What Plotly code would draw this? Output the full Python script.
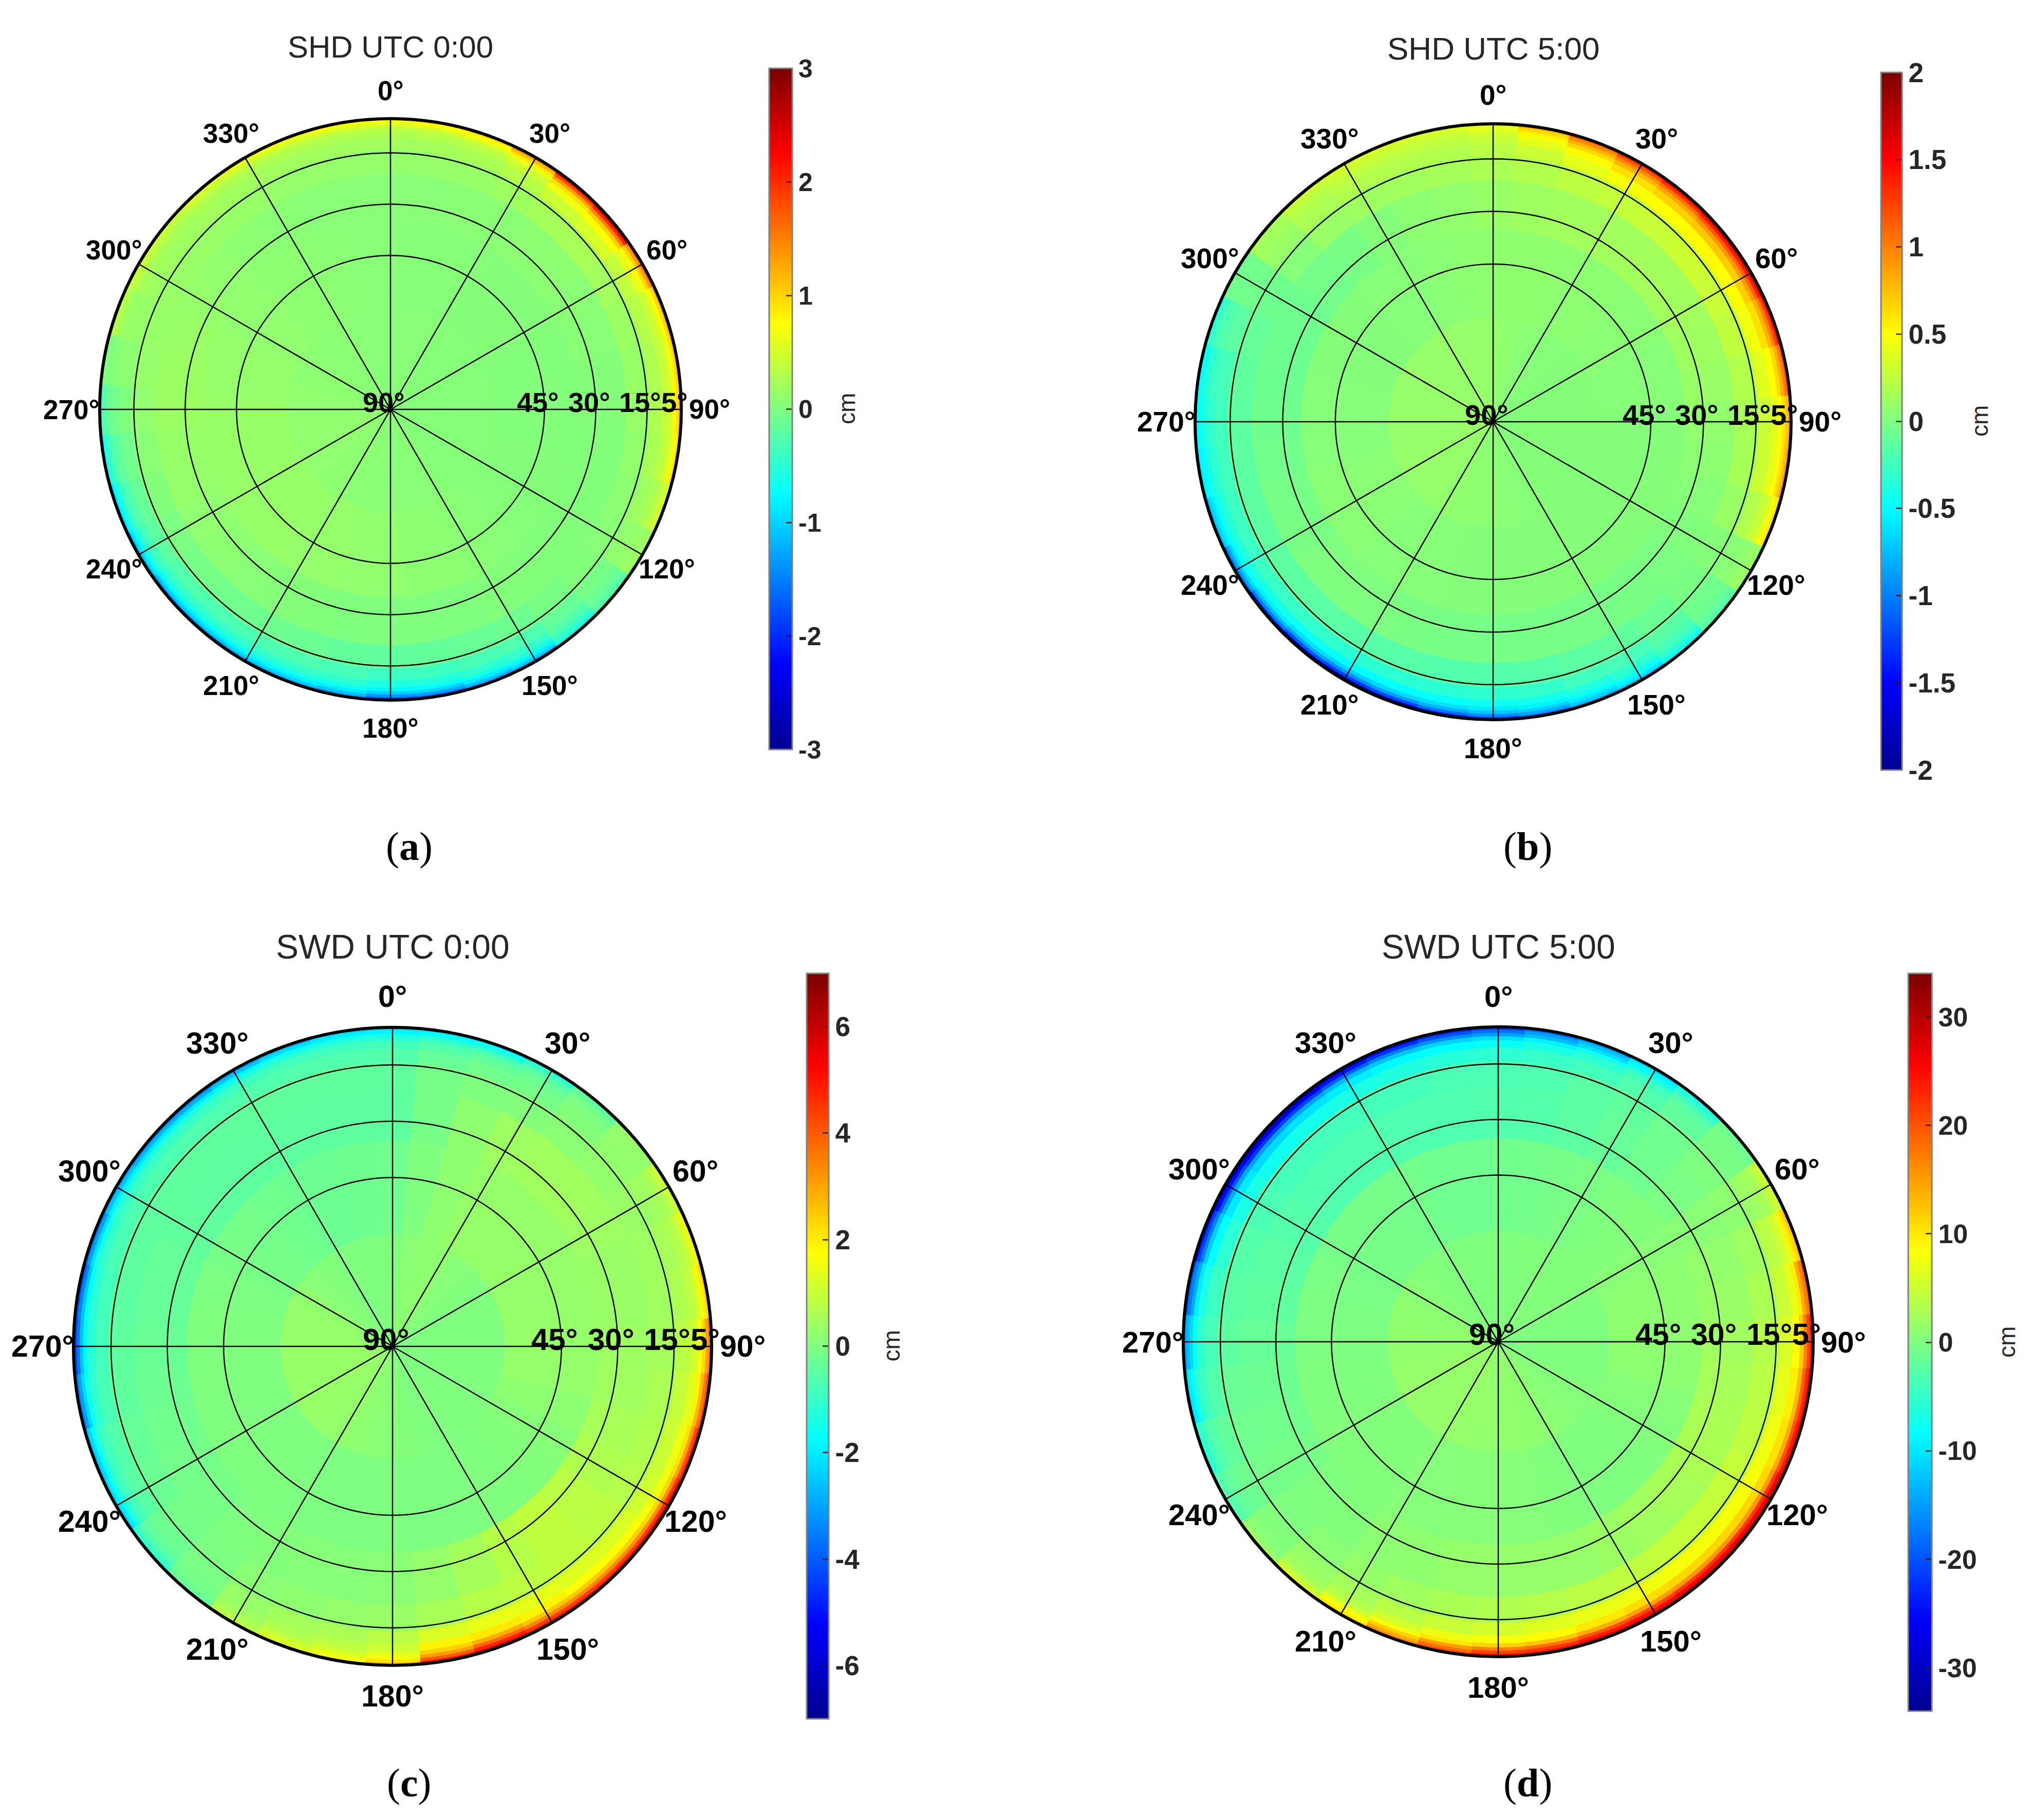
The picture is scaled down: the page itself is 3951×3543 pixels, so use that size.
# polar maps of SHD / SWD residuals by azimuth and elevation
import math
import plotly.graph_objects as go

# the page keeps its 8px body margin, so the figure is that much smaller than the window
PAGE_MARGIN = 8
WIDTH = 3951 - 2 * PAGE_MARGIN
HEIGHT = 3543 - 2 * PAGE_MARGIN

azimuths = list(range(0, 360, 10))
band_top = [90, 60, 35, 21, 14, 10.5, 8.5, 7.4, 6.5, 5.7]
band_bottom = [60, 35, 21, 14, 10.5, 8.5, 7.4, 6.5, 5.7, 5]

# values in cm, one row per elevation band (zenith to horizon), one column per azimuth
shd_0 = [
    [.05, .05, .05, .04, .04, .04, .04, .04, .04, .04, .04, .04, .04, .04, .04, .05, .05, .05, .06, .06, .07, .08, .08, .1, .1, .1, .1, .1, .1, .08, .08, .07, .06, .06, .05, .05],
    [.05, .04, .04, .04, .03, .03, .03, .02, .02, .02, .02, .03, .03, .04, .05, .06, .08, .08, .1, .1, .12, .12, .14, .14, .14, .14, .14, .14, .12, .12, .1, .1, .08, .08, .06, .05],
    [.05, .05, .06, .06, .08, .08, .06, .05, .03, .03, .02, .02, .02, .02, .02, .02, 0, 0, 0, 0, .02, .03, .05, .08, .1, .12, .14, .16, .16, .15, .12, .1, .08, .06, .05, .05],
    [.12, .13, .14, .18, .22, .24, .2, .16, .14, .14, .11, .08, .05, .02, -.04, -.1, -.14, -.16, -.18, -.16, -.12, -.1, -.08, -.05, -.02, .02, .06, .1, .13, .14, .15, .15, .14, .13, .12, .12],
    [.2, .22, .25, .32, .45, .52, .4, .32, .28, .28, .25, .18, .1, -.05, -.15, -.28, -.32, -.38, -.4, -.34, -.3, -.3, -.3, -.27, -.2, -.15, -.08, 0, .08, .14, .18, .18, .2, .2, .2, .2],
    [.28, .3, .34, .46, .66, .76, .58, .44, .4, .4, .36, .25, .12, -.1, -.25, -.42, -.48, -.55, -.58, -.48, -.45, -.45, -.45, -.42, -.35, -.28, -.18, -.06, .06, .15, .22, .22, .25, .26, .27, .28],
    [.36, .4, .46, .62, .92, 1.05, .78, .58, .52, .52, .48, .32, .14, -.15, -.35, -.6, -.65, -.75, -.8, -.65, -.6, -.6, -.62, -.6, -.5, -.4, -.28, -.12, .04, .18, .26, .26, .3, .33, .35, .36],
    [.5, .55, .62, .85, 1.3, 1.5, 1.0, .75, .7, .7, .62, .4, .16, -.2, -.45, -.8, -.85, -1.0, -1.05, -.85, -.8, -.8, -.82, -.8, -.7, -.55, -.38, -.18, .02, .25, .34, .34, .4, .45, .48, .5],
    [.62, .7, .78, 1.1, 1.75, 2.0, 1.3, .95, .9, .9, .8, .5, .18, -.25, -.55, -1.0, -1.1, -1.3, -1.35, -1.1, -1.0, -1.0, -1.05, -1.05, -.9, -.75, -.5, -.25, 0, .3, .4, .4, .48, .55, .58, .62],
    [.75, .85, .95, 1.4, 2.2, 2.5, 1.6, 1.2, 1.1, 1.1, 1.0, .6, .2, -.3, -.7, -1.3, -1.4, -1.7, -1.8, -1.4, -1.3, -1.3, -1.4, -1.4, -1.2, -1.0, -.7, -.35, 0, .35, .45, .45, .55, .65, .7, .75],
]
shd_5 = [
    [.08, .06, .04, .03, .03, .02, .02, .02, .02, .02, .02, .02, .02, .02, .02, .03, .03, .04, .05, .05, .06, .07, .08, .08, .09, .09, .09, .09, .09, .09, .09, .09, .09, .09, .09, .08],
    [.06, .06, .06, .05, .05, .04, .04, .03, .03, .02, .02, .02, .02, .02, .02, .02, .02, .02, .02, .02, .03, .03, .03, .04, .04, .04, .03, .03, .03, .02, .02, .02, .03, .03, .04, .05],
    [.1, .12, .13, .14, .14, .14, .13, .12, .1, .07, .05, .03, .01, -.01, -.02, -.03, -.03, -.03, -.03, -.03, -.02, -.01, 0, 0, -.02, -.03, -.05, -.06, -.07, -.07, -.06, -.04, -.02, .02, .05, .07],
    [.17, .2, .24, .27, .28, .3, .28, .25, .2, .16, .15, .1, .02, -.02, -.08, -.12, -.14, -.16, -.17, -.17, -.16, -.15, -.14, -.13, -.13, -.13, -.13, -.13, -.12, -.1, -.06, .03, .1, .12, .14, .15],
    [.23, .3, .4, .47, .5, .52, .5, .45, .38, .3, .3, .2, .04, -.05, -.15, -.22, -.25, -.3, -.32, -.33, -.33, -.33, -.3, -.28, -.27, -.26, -.25, -.24, -.22, -.14, -.05, .1, .17, .2, .2, .2],
    [.28, .4, .52, .62, .68, .72, .7, .62, .5, .4, .4, .28, .06, -.07, -.22, -.32, -.37, -.42, -.45, -.47, -.48, -.5, -.46, -.42, -.38, -.36, -.33, -.3, -.27, -.17, -.05, .12, .2, .24, .24, .24],
    [.32, .47, .65, .78, .85, .92, .9, .8, .65, .5, .5, .36, .08, -.1, -.28, -.4, -.47, -.55, -.58, -.62, -.65, -.68, -.62, -.55, -.5, -.45, -.4, -.37, -.33, -.2, -.05, .13, .22, .27, .27, .27],
    [.35, .55, .8, .95, 1.05, 1.15, 1.12, 1.0, .82, .6, .62, .45, .1, -.12, -.35, -.5, -.58, -.68, -.72, -.8, -.88, -.92, -.85, -.75, -.65, -.55, -.47, -.42, -.38, -.25, -.05, .14, .25, .3, .3, .3],
    [.4, .65, .95, 1.15, 1.3, 1.4, 1.4, 1.25, 1.0, .72, .75, .55, .1, -.15, -.42, -.6, -.7, -.85, -.95, -1.05, -1.2, -1.25, -1.15, -1.0, -.85, -.65, -.52, -.47, -.45, -.3, -.05, .15, .28, .33, .33, .33],
    [.45, .75, 1.1, 1.35, 1.55, 1.7, 1.65, 1.5, 1.2, .85, .9, .65, .1, -.2, -.5, -.75, -.85, -1.1, -1.25, -1.4, -1.65, -1.75, -1.6, -1.4, -1.1, -.8, -.6, -.5, -.5, -.35, -.05, .15, .3, .35, .35, .35],
]
swd_0 = [
    [0, .15, .2, .2, .1, .05, 0, 0, 0, 0, 0, 0, 0, 0, 0, 0, 0, .05, .1, .15, .2, .25, .3, .32, .32, .32, .32, .32, .3, .28, .22, .12, .05, 0, 0, 0],
    [-.2, 0, .2, .3, .3, .3, .3, .3, .3, .3, .28, .2, .1, .05, .02, 0, -.02, -.02, -.02, -.02, -.02, -.02, 0, 0, 0, 0, 0, 0, 0, -.05, -.1, -.15, -.2, -.25, -.25, -.22],
    [-.45, -.1, .2, .4, .45, .45, .4, .35, .35, .4, .45, .55, .65, .8, .9, .75, .5, .3, .15, .1, .1, .05, 0, -.1, -.15, -.2, -.25, -.3, -.35, -.35, -.4, -.45, -.45, -.45, -.45, -.45],
    [-.4, -.1, 0, .06, .15, .25, .33, .4, .45, .5, .6, .65, .7, .85, .9, .85, .75, .55, .35, .28, .2, .15, -.03, -.15, -.28, -.33, -.42, -.45, -.48, -.45, -.42, -.42, -.42, -.4, -.4, -.4],
    [-.6, -.35, -.2, -.13, .06, .26, .4, .55, .65, .8, .95, 1.05, 1.1, 1.25, 1.3, 1.4, 1.45, 1.25, .8, .6, .5, .32, -.06, -.26, -.52, -.6, -.75, -.85, -.85, -.75, -.68, -.68, -.65, -.62, -.62, -.62],
    [-.85, -.6, -.42, -.28, 0, .28, .5, .7, .85, 1.1, 1.35, 1.5, 1.55, 1.7, 1.75, 1.9, 2.05, 1.9, 1.05, .8, .63, .38, -.1, -.38, -.77, -.85, -1.1, -1.2, -1.2, -1.05, -.95, -.95, -.95, -.88, -.85, -.85],
    [-1.15, -.88, -.72, -.48, -.08, .28, .64, .92, 1.15, 1.65, 1.9, 2.15, 2.3, 2.4, 2.5, 2.55, 2.9, 2.4, 1.35, 1.05, .8, .48, -.16, -.56, -1.1, -1.2, -1.6, -1.85, -1.75, -1.5, -1.35, -1.4, -1.4, -1.28, -1.2, -1.15],
    [-1.5, -1.25, -1.1, -.7, -.22, .27, .8, 1.2, 1.55, 2.25, 2.7, 3.05, 3.35, 3.35, 3.35, 3.4, 3.8, 3.05, 1.6, 1.25, 1.0, .62, -.22, -.76, -1.5, -1.65, -2.25, -2.6, -2.5, -2.15, -1.9, -2.0, -2.0, -1.8, -1.6, -1.5],
    [-1.9, -1.7, -1.5, -1.0, -.4, .3, 1.0, 1.45, 2.0, 3.0, 3.6, 4.2, 4.6, 4.5, 4.4, 4.4, 4.8, 4.0, 2.1, 1.5, 1.2, .7, -.3, -1.0, -2.0, -2.2, -3.0, -3.6, -3.4, -3.0, -2.5, -2.7, -2.8, -2.5, -2.2, -2.0],
    [-2.1, -2.0, -1.8, -1.3, -.6, .3, 1.1, 1.6, 2.3, 3.6, 4.3, 5.0, 5.6, 5.3, 5.0, 5.0, 5.6, 5.0, 2.6, 1.6, 1.3, .8, -.3, -1.2, -2.4, -2.6, -3.6, -4.4, -4.2, -3.6, -3.0, -3.3, -3.4, -3.0, -2.6, -2.2],
]
swd_5 = [
    [.1, .1, .2, .3, .3, .2, .2, .1, 0, 0, 0, 0, .2, .4, .7, .9, 1.1, 1.2, 1.3, 1.3, 1.4, 1.5, 1.5, 1.5, 1.5, 1.4, 1.3, 1.2, 1.1, 1, .7, .4, .2, .1, .1, .1],
    [-1, -.8, -.6, -.3, 0, .3, .6, .9, 1, 1, .8, .5, .2, 0, 0, 0, .2, .4, .5, .5, .4, .4, .3, .2, .2, .1, 0, -.1, -.2, -.3, -.5, -.6, -.7, -.8, -1, -1],
    [-3, -2.8, -2.3, -1.7, -1, -.3, .7, 1.3, 1.7, 2.2, 2.6, 2.8, 2.8, 2.6, 2.2, 1.8, 1.5, 1.5, 1.5, 1.4, 1.1, .8, .3, 0, -.5, -.9, -1.2, -1.6, -2, -2.4, -2.8, -3.1, -3.2, -3.2, -3.2, -3.2],
    [-3.5, -3.2, -2.5, -2, -1, 0, 1, 2.1, 2.8, 3.5, 3.9, 4.2, 4.6, 4.6, 4.6, 4.2, 3.9, 3.5, 3.2, 2.8, 2.1, 1.4, .7, 0, -.7, -1, -1.5, -2.1, -2.5, -2.8, -3.5, -3.9, -3.9, -3.9, -3.9, -3.5],
    [-5.6, -4.9, -4.1, -3, -1.9, -.4, 1.9, 3.8, 4.9, 6, 6.8, 7.5, 7.9, 7.9, 7.9, 7.5, 7.1, 6.4, 5.6, 4.9, 3.8, 2.6, 1.5, .2, -1.1, -1.9, -3, -3.8, -4.5, -5.6, -6.8, -7.5, -7.1, -6.8, -6.4, -6],
    [-8, -6.8, -5.6, -4, -2.4, -.4, 2.4, 5.2, 6.8, 8.4, 9.6, 10.4, 11.2, 11.2, 11.2, 10.8, 10, 8.8, 8, 7.2, 5.6, 3.6, 2, .4, -1.6, -2.8, -4.4, -5.6, -6.8, -8.4, -10, -10.8, -10.4, -9.6, -8.8, -8.4],
    [-10.5, -9.2, -7.5, -5.7, -3.5, -.4, 3.1, 7, 9.7, 11.9, 13.2, 14.1, 15.4, 15.4, 15.4, 15, 14.1, 12.3, 11.4, 10.1, 7.9, 5.3, 2.6, .4, -2.2, -3.5, -5.7, -7.9, -9.7, -11.9, -14.1, -15, -14.5, -13.2, -12.3, -11.4],
    [-15, -13, -10.5, -8, -5, -1, 4.5, 9.5, 14, 17, 19, 20, 22, 22, 22, 21, 20, 18, 17, 15, 11.5, 7.5, 4, 1, -2.5, -4.5, -8, -11, -14, -17, -20, -22, -21, -19, -17, -16],
    [-18, -15, -12.5, -9, -6, -1, 5, 11, 17, 21, 23, 24, 26, 26, 26, 25, 24, 22, 21, 18, 14, 9, 5, 1.5, -3, -5.5, -9.5, -13, -17, -21, -25, -27, -26, -24, -22, -20],
    [-21, -18, -15, -11, -7, -1, 6, 13, 19, 24, 26, 27, 29, 29, 29, 28, 27, 25, 24, 21, 17, 11, 6, 2, -3, -6, -11, -15, -20, -25, -29, -31, -30, -28, -25, -23],
]

angle_ticks = list(range(0, 360, 30))
ring_elevations = [45, 30, 15]
radial_elevations = [90, 45, 30, 15, 5]
arc_steps = list(range(0, 361, 2))

jet = [[0, "#000090"], [0.125, "#0000ff"], [0.375, "#00ffff"],
       [0.625, "#ffff00"], [0.875, "#ff0000"], [1, "#7a0000"]]

FONT = "Liberation Sans, Arial, sans-serif"
LABEL_RADIUS = 1.097


def fx(x):
    return (x - PAGE_MARGIN) / WIDTH


def fy(y):
    return 1 - (y - PAGE_MARGIN) / HEIGHT


# one dict per panel: pixel geometry of the disc and of its colorbar, plus text sizes
panels = [
    dict(name="SHD UTC 0:00", z=shd_0, vmax=3, ticks=[-3, -2, -1, 0, 1, 2, 3], letter="a",
         cx=760, cy=797, rad=566, title_y=91, letter_xy=(796, 1648),
         bar=(1497, 133, 1542, 1459), unit_x=1648,
         title_size=60, label_size=53, tick_size=50),
    dict(name="SHD UTC 5:00", z=shd_5, vmax=2, ticks=[-2, -1.5, -1, -0.5, 0, 0.5, 1, 1.5, 2], letter="b",
         cx=2906, cy=821, rad=580, title_y=94, letter_xy=(2973, 1648),
         bar=(3661, 141, 3702, 1499), unit_x=3853,
         title_size=62, label_size=55, tick_size=53),
    dict(name="SWD UTC 0:00", z=swd_0, vmax=7, ticks=[-6, -4, -2, 0, 2, 4, 6], letter="c",
         cx=764, cy=2621, rad=621, title_y=1843, letter_xy=(796, 3470),
         bar=(1570, 1895, 1613, 3346), unit_x=1734,
         title_size=66, label_size=59, tick_size=53),
    dict(name="SWD UTC 5:00", z=swd_5, vmax=34, ticks=[-30, -20, -10, 0, 10, 20, 30], letter="d",
         cx=2916, cy=2612, rad=613, title_y=1843, letter_xy=(2973, 3470),
         bar=(3714, 1895, 3760, 3331), unit_x=3906,
         title_size=66, label_size=58, tick_size=52),
]

fig = go.Figure()
annotations = []
layout_polar = {}


def note(text, x, y, size, **kw):
    annotations.append(dict(text=text, xref="paper", yref="paper", showarrow=False,
                            x=x, y=y, xanchor="center", yanchor="middle",
                            font=dict(family=kw.pop("family", FONT), size=size,
                                      color=kw.pop("color", "black"), weight=kw.pop("weight", "normal")),
                            **kw))


for i, p in enumerate(panels):
    key = "polar" if i == 0 else f"polar{i + 1}"
    theta, thick, base, color = [], [], [], []
    for top, bottom, row in zip(band_top, band_bottom, p["z"]):
        for az, val in zip(azimuths, row):
            theta.append(az)
            base.append(90 - top)
            thick.append(top - bottom)
            color.append(val)

    x0, y0, x1, y1 = p["bar"]
    fig.add_trace(go.Barpolar(
        subplot=key, theta=theta, r=thick, base=base, width=10,
        showlegend=False,
        marker=dict(
            color=color, colorscale=jet, cmin=-p["vmax"], cmax=p["vmax"],
            line=dict(color=color, colorscale=jet, cmin=-p["vmax"], cmax=p["vmax"], width=1.5),
            colorbar=dict(
                x=fx(x0), xanchor="left", xpad=0, ypad=0,
                y=fy(y1), yanchor="bottom",
                len=(y1 - y0) / HEIGHT, lenmode="fraction",
                thickness=x1 - x0, thicknessmode="pixels",
                tickvals=p["ticks"], ticktext=[str(t) for t in p["ticks"]],
                ticks="inside", ticklen=13, tickwidth=3, tickcolor="rgba(60,20,20,0.8)",
                tickfont=dict(family=FONT, size=p["tick_size"], color="#262626", weight="bold"),
                outlinecolor="#808080", outlinewidth=3,
            ),
        ),
    ))

    # grid drawn as traces so it stays on top of the filled bands
    ring_r, ring_t = [], []
    for e in ring_elevations:
        ring_r += [90 - e] * len(arc_steps) + [None]
        ring_t += arc_steps + [None]
    spoke_r, spoke_t = [], []
    for a in angle_ticks:
        spoke_r += [0, 85, None]
        spoke_t += [a, a, None]
    for rr, tt in ((ring_r, ring_t), (spoke_r, spoke_t)):
        fig.add_trace(go.Scatterpolar(
            subplot=key, r=rr, theta=tt, mode="lines", showlegend=False, hoverinfo="skip",
            line=dict(color="black", width=2.5),
        ))

    layout_polar[key] = dict(
        domain=dict(x=[fx(p["cx"] - p["rad"]), fx(p["cx"] + p["rad"])],
                    y=[fy(p["cy"] + p["rad"]), fy(p["cy"] - p["rad"])]),
        bgcolor="white",
        angularaxis=dict(
            rotation=90, direction="clockwise", showticklabels=False, ticks="",
            showgrid=False, showline=True, linecolor="black", linewidth=6,
        ),
        radialaxis=dict(
            range=[0, 85], showticklabels=False, ticks="", showline=False, showgrid=False,
        ),
    )

    note(p["name"], fx(p["cx"]), fy(p["title_y"]), p["title_size"], color="#262626")
    note(f"(<b>{p['letter']}</b>)", fx(p["letter_xy"][0]), fy(p["letter_xy"][1]), 78,
         family="Liberation Serif, serif")
    note("cm", fx(p["unit_x"]), fy((y0 + y1) / 2), 46, color="#262626", textangle=-90)

    # azimuth labels sit on a circle just outside the disc
    for a in angle_ticks:
        ang = math.radians(a)
        note(f"{a}°",
             fx(p["cx"] + LABEL_RADIUS * p["rad"] * math.sin(ang)),
             fy(p["cy"] - LABEL_RADIUS * p["rad"] * math.cos(ang)),
             p["label_size"], weight="bold")
    # elevation labels sit along the 90 degree spoke
    for e in radial_elevations:
        note(f"{e}°", fx(p["cx"] + p["rad"] * (90 - e) / 85), fy(p["cy"]), p["label_size"] + 1,
             weight="bold", xshift=-13, yshift=14)

fig.update_layout(
    width=WIDTH, height=HEIGHT, margin=dict(l=0, r=0, t=0, b=0),
    paper_bgcolor="white", plot_bgcolor="white",
    font=dict(family=FONT), annotations=annotations,
    **layout_polar,
)

fig.write_html("out.html")
